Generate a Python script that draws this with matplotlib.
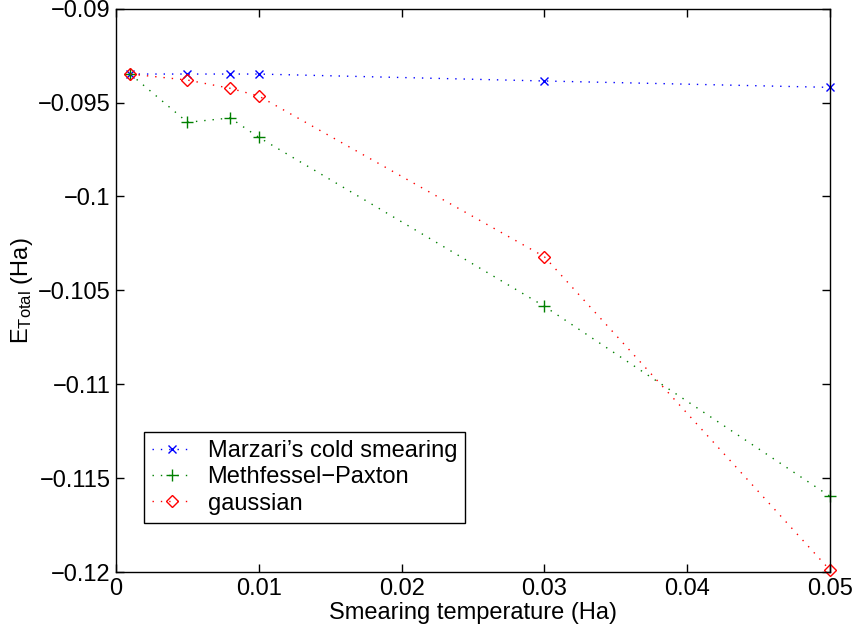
import matplotlib
matplotlib.use("Agg")
import matplotlib.pyplot as plt

plt.rcParams['font.family'] = ['Liberation Sans', 'DejaVu Sans']
plt.rcParams['mathtext.fontset'] = 'custom'
plt.rcParams['mathtext.rm'] = 'Liberation Sans'
plt.rcParams['mathtext.it'] = 'Liberation Sans'

temps = [0.001, 0.005, 0.008, 0.01, 0.03, 0.05]
marzari = [-0.09348, -0.09348, -0.09348, -0.09348, -0.09385, -0.09419]
methfessel = [-0.09348, -0.09605, -0.09582, -0.09685, -0.10585, -0.11597]
gaussian = [-0.09348, -0.0938, -0.09424, -0.09465, -0.10321, -0.1199]

xticks = [0, 0.01, 0.02, 0.03, 0.04, 0.05]
xticklabels = ['0', '0.01', '0.02', '0.03', '0.04', '0.05']
yticks = [-0.12, -0.115, -0.11, -0.105, -0.1, -0.095, -0.09]
yticklabels = ['\u22120.12', '\u22120.115', '\u22120.11', '\u22120.105', '\u22120.1', '\u22120.095', '\u22120.09']

FS = 17
fig = plt.figure(figsize=(8.56, 6.37), dpi=100)
ax = fig.add_axes([116/856, 1 - 572/637, 714/856, 563.3/637])

dots = (0, (1, 5))
ax.plot(temps, marzari, linestyle=dots, color='blue', marker='x', markersize=6,
        markeredgewidth=1.0, linewidth=1.0, label="Marzari\u2019s cold smearing", clip_on=False)
ax.plot(temps, methfessel, linestyle=dots, color='green', marker='+', markersize=9,
        markeredgewidth=1.0, linewidth=1.0, label='Methfessel\u2212Paxton', clip_on=False)
ax.plot(temps, gaussian, linestyle=dots, color='red', marker='D', markersize=6,
        markerfacecolor='none', markeredgewidth=1.0, linewidth=1.0, label='gaussian', clip_on=False)

ax.set_xlim(0, 0.05)
ax.set_ylim(-0.12, -0.09)
ax.set_xticks(xticks)
ax.set_xticklabels(xticklabels)
ax.set_yticks(yticks)
ax.set_yticklabels(yticklabels)
ax.tick_params(direction='in', top=True, right=True, labelsize=FS, length=6, width=1, pad=4)
for s in ax.spines.values():
    s.set_linewidth(1.0)

ax.set_xlabel('Smearing temperature (Ha)', fontsize=FS, labelpad=2)
ax.set_ylabel(r'E$_{\mathrm{Total}}$ (Ha)', fontsize=FS, labelpad=2)

leg = ax.legend(loc='lower left', bbox_to_anchor=(0.039, 0.087), fontsize=FS,
                frameon=True, fancybox=False, edgecolor='black', framealpha=1,
                borderpad=0.35, labelspacing=0.18, handlelength=1.7, handletextpad=0.65,
                borderaxespad=0)
leg.get_frame().set_linewidth(1.0)

fig.savefig('out.png', dpi=100)
